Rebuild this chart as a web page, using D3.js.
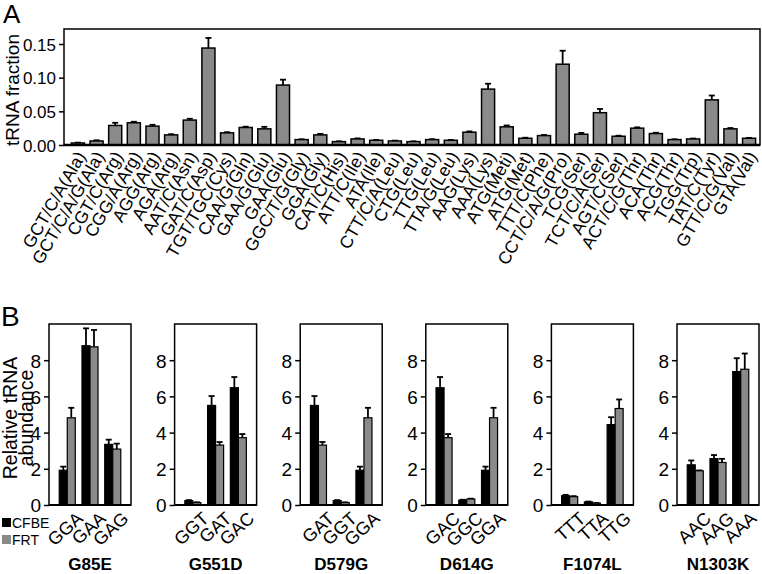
<!DOCTYPE html>
<html><head><meta charset="utf-8">
<script src="https://cdn.jsdelivr.net/npm/d3@7"></script>
<style>
body{margin:0;background:#fff;}
text{font-family:"Liberation Sans",Arial,sans-serif;fill:#000;}
</style></head><body>
<svg id="c" width="762" height="574"></svg>
<script>
// ---------- Panel A data ----------
const codonsA = ["GCT/C/A(Ala)","GCT/C/A/G(Ala)","CGT/C(Arg)","CGG/A(Arg)","AGG(Arg)","AGA(Arg)","AAT/C(Asn)","GAT/C(Asp)","TGT/TGC(Cys)","CAA/G(Gln)","GAA/G(Glu)","GAA(Glu)","GGC/T/G(Gly)","GGA(Gly)","CAT/C(His)","ATT/C(Ile)","ATA(Ile)","CTT/C/A(Leu)","CTG(Leu)","TTG(Leu)","TTA/G(Leu)","AAG(Lys)","AAA(Lys)","ATG(Meti)","ATG(Met)","TTT/C(Phe)","CCT/C/A/G(Pro)","TCG(Ser)","TCT/C/A(Ser)","AGT/C(Ser)","ACT/C/G(Thr)","ACA(Thr)","ACG(Thr)","TGG(Trp)","TAT/C(Tyr)","GTT/C/G(Val)","GTA(Val)"];
const fractionA = [0.003,0.006,0.029,0.033,0.028,0.015,0.037,0.144,0.018,0.026,0.024,0.089,0.008,0.015,0.005,0.009,0.007,0.006,0.005,0.008,0.007,0.019,0.083,0.027,0.010,0.014,0.120,0.016,0.048,0.013,0.025,0.017,0.008,0.009,0.067,0.024,0.010];
const errA = [0.0005,0.001,0.004,0.0015,0.002,0.001,0.002,0.015,0.001,0.0012,0.003,0.008,0.0005,0.0015,0.0005,0.0008,0.0006,0.0005,0.0005,0.0006,0.0005,0.0012,0.008,0.002,0.0008,0.0008,0.020,0.002,0.0055,0.0008,0.0012,0.0012,0.0005,0.0006,0.0065,0.0012,0.0006];
const ticksA = [0,0.05,0.10,0.15];

// ---------- Panel B data ----------
const mutations = ["G85E","G551D","D579G","D614G","F1074L","N1303K"];
const codonsB = [["GGA","GAA","GAG"],["GGT","GAT","GAC"],["GAT","GGT","GGA"],["GAC","GGC","GGA"],["TTT","TTA","TTG"],["AAC","AAG","AAA"]];
const cfbe    = [[1.92,8.8,3.35],[0.24,5.5,6.48],[5.5,0.24,1.92],[6.48,0.27,1.92],[0.52,0.17,4.44],[2.22,2.56,7.37]];
const cfbeErr = [[0.2,0.96,0.26],[0.03,0.52,0.59],[0.52,0.03,0.2],[0.59,0.02,0.2],[0.04,0.02,0.41],[0.24,0.2,0.74]];
const frt     = [[4.82,8.74,3.09],[0.13,3.31,3.72],[3.31,0.13,4.82],[3.72,0.33,4.82],[0.46,0.1,5.33],[1.89,2.35,7.5]];
const frtErr  = [[0.55,0.93,0.3],[0.02,0.17,0.2],[0.17,0.02,0.55],[0.2,0.02,0.55],[0.03,0.01,0.5],[0.02,0.2,0.87]];
const seriesB = ["CFBE","FRT"];
const ticksB = [0,2,4,6,8];

const svg = d3.select("#c");
const GREY = "#8a8a8a";

// ================= Panel A =================
const A = {l:64, r:760, t:29, b:145};
const xA = d3.scaleBand().domain(codonsA).range([63,764]).paddingInner(0.3).paddingOuter(0.45);
const yA = d3.scaleLinear().domain([0,0.15]).range([A.b,44]);
const gA = svg.append("g");

gA.append("text").attr("x",3).attr("y",23).attr("font-size",26).text("A");

gA.append("rect").attr("x",A.l).attr("y",A.t).attr("width",A.r-A.l).attr("height",A.b-A.t)
  .attr("fill","none").attr("stroke","#000").attr("stroke-width",1.5);

codonsA.forEach((c,i)=>{
  const cx = xA(c)+xA.bandwidth()/2;
  const y1 = yA(fractionA[i]), y2 = yA(fractionA[i]+errA[i]);
  gA.append("line").attr("x1",cx).attr("x2",cx).attr("y1",y1).attr("y2",y2).attr("stroke","#000").attr("stroke-width",1.8);
  gA.append("line").attr("x1",cx-3).attr("x2",cx+3).attr("y1",y2).attr("y2",y2).attr("stroke","#000").attr("stroke-width",1.8);
});
gA.selectAll("rect.bar").data(codonsA).join("rect").attr("class","bar")
  .attr("x",d=>xA(d)).attr("width",xA.bandwidth())
  .attr("y",(d,i)=>yA(fractionA[i])).attr("height",(d,i)=>A.b-yA(fractionA[i]))
  .attr("fill",GREY).attr("stroke","#000").attr("stroke-width",1.5);

const axA = gA.append("g").attr("transform",`translate(${A.l},0)`)
  .call(d3.axisLeft(yA).tickValues(ticksA).tickFormat(d3.format(".2f")).tickSize(5).tickPadding(3));
axA.select(".domain").remove();
axA.selectAll(".tick line").attr("stroke-width",1.5);
axA.selectAll("text").attr("font-size",17).attr("font-family","Liberation Sans, Arial, sans-serif").attr("dy","0.36em");
gA.append("line").attr("x1",A.l).attr("x2",A.r).attr("y1",A.b).attr("y2",A.b).attr("stroke","#000").attr("stroke-width",2.5);

codonsA.forEach(c=>{
  const cx = xA(c)+xA.bandwidth()/2 + 3;
  gA.append("text").attr("transform",`translate(${cx},${A.b+8}) rotate(-60)`)
    .attr("text-anchor","end").attr("dy","0.35em").attr("font-size",17.5).text(c);
});
gA.append("text").attr("transform",`translate(19,${(A.t+A.b)/2+3}) rotate(-90)`)
  .attr("text-anchor","middle").attr("font-size",19).text("tRNA fraction");

// ================= Panel B =================
const B = {t:324, b:505, w:82};
const yB = d3.scaleLinear().domain([0,10]).range([B.b,B.t]);
const gB = svg.append("g");
gB.append("text").attr("x",1).attr("y",326).attr("font-size",28).text("B");

mutations.forEach((m,pi)=>{
  const left = 49 + pi*125.6;
  const g = gB.append("g");
  const xG = d3.scaleBand().domain(codonsB[pi]).range([left,left+B.w]).paddingInner(0.295).paddingOuter(0.45);
  const xS = d3.scaleBand().domain(seriesB).range([0,xG.bandwidth()]);
  g.append("rect").attr("x",left).attr("y",B.t).attr("width",B.w).attr("height",B.b-B.t)
    .attr("fill","none").attr("stroke","#000").attr("stroke-width",1.5);
  const vals = [cfbe[pi],frt[pi]], errs=[cfbeErr[pi],frtErr[pi]];
  codonsB[pi].forEach((c,ci)=>{
    seriesB.forEach((s,si)=>{
      const x0 = xG(c)+xS(s), cx = x0+xS.bandwidth()/2;
      const v = vals[si][ci], e = errs[si][ci];
      g.append("line").attr("x1",cx).attr("x2",cx).attr("y1",yB(v)).attr("y2",yB(v+e)).attr("stroke","#000").attr("stroke-width",1.8);
      g.append("line").attr("x1",cx-3).attr("x2",cx+3).attr("y1",yB(v+e)).attr("y2",yB(v+e)).attr("stroke","#000").attr("stroke-width",1.8);
      g.append("rect").attr("x",x0).attr("width",xS.bandwidth()).attr("y",yB(v)).attr("height",B.b-yB(v))
        .attr("fill",si===0?"#000":GREY).attr("stroke","#000").attr("stroke-width",1.2);
    });
    const lx = xG(c)+xG.bandwidth()/2 + 8;
    g.append("text").attr("transform",`translate(${lx},${B.b+5}) rotate(-42)`)
      .attr("text-anchor","end").attr("dy","0.75em").attr("font-size",18).text(c);
  });
  const ax = g.append("g").attr("transform",`translate(${left},0)`)
    .call(d3.axisLeft(yB).tickValues(ticksB).tickFormat(d3.format("d")).tickSize(5).tickPadding(3));
  ax.select(".domain").remove();
  ax.selectAll(".tick line").attr("stroke-width",1.5);
  ax.selectAll("text").attr("font-size",19).attr("font-family","Liberation Sans, Arial, sans-serif").attr("dy","0.36em");
  g.append("line").attr("x1",left).attr("x2",left+B.w).attr("y1",B.b).attr("y2",B.b).attr("stroke","#000").attr("stroke-width",2.2);
  g.append("text").attr("x",left+B.w/2).attr("y",570).attr("text-anchor","middle")
    .attr("font-size",17).attr("font-weight","bold").text(m);
});

gB.append("text").attr("transform",`translate(17,418) rotate(-90)`).attr("text-anchor","middle").attr("font-size",19.5).text("Relative tRNA");
gB.append("text").attr("transform",`translate(32.5,418) rotate(-90)`).attr("text-anchor","middle").attr("font-size",19.5).text("abundance");

seriesB.forEach((s,i)=>{
  const y = 518 + i*17;
  gB.append("rect").attr("x",2).attr("y",y).attr("width",9).attr("height",9).attr("fill",i===0?"#000":GREY);
  gB.append("text").attr("x",12).attr("y",y+9.5).attr("font-size",14).text(s);
});
</script>
</body></html>
